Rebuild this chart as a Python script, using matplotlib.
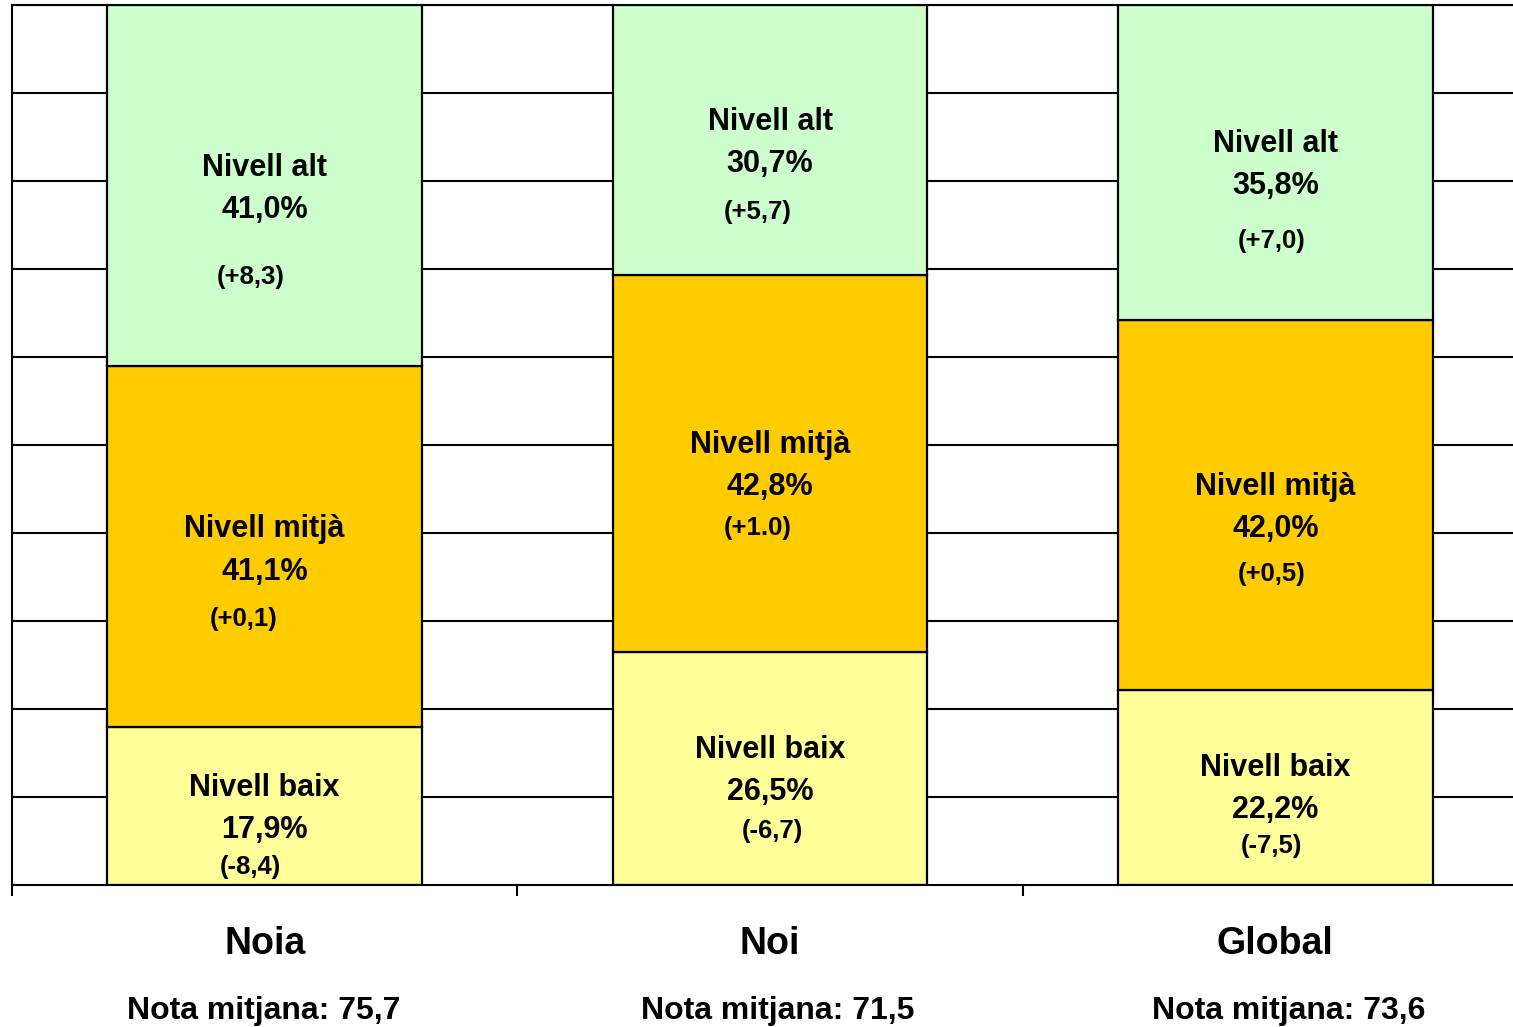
import numpy as np
import matplotlib.pyplot as plt

# Dades del gràfic
grups = ["Noia", "Noi", "Global"]
notes = ["Nota mitjana: 75,7", "Nota mitjana: 71,5", "Nota mitjana: 73,6"]
baix = [17.9, 26.5, 22.2]
mitja = [41.1, 42.8, 42.0]
alt = [41.0, 30.7, 35.8]
dif_baix = ["(-8,4)", "(-6,7)", "(-7,5)"]
dif_mitja = ["(+0,1)", "(+1.0)", "(+0,5)"]
dif_alt = ["(+8,3)", "(+5,7)", "(+7,0)"]

plt.rcParams['font.family'] = ['Liberation Sans', 'DejaVu Sans']

fig = plt.figure(figsize=(15.13, 10.27), dpi=100)
ax = fig.add_axes([12 / 1513, 142 / 1027, 1516 / 1513, 880 / 1027])

x = np.arange(len(grups))
w = 0.623
bot2 = np.array(baix) + np.array(mitja)
ax.bar(x, baix, w, color="#FFFF99", edgecolor="black", linewidth=1.6, zorder=2)
ax.bar(x, mitja, w, bottom=baix, color="#FFCC00", edgecolor="black", linewidth=1.6, zorder=2)
ax.bar(x, alt, w, bottom=bot2, color="#CCFFCC", edgecolor="black", linewidth=1.6, zorder=2)

ax.set_xlim(-0.5, 2.5)
ax.set_ylim(0, 100)
ax.set_yticks(np.arange(10, 101, 10))
ax.yaxis.grid(True, color="black", linewidth=1.5, zorder=1)
ax.set_axisbelow(True)
ax.tick_params(axis="y", length=0, labelleft=False)
ax.set_xticks([-0.5, 0.5, 1.5, 2.5])
ax.tick_params(axis="x", length=8, width=1.5, direction="out", labelbottom=False)
for s in ["left", "bottom", "top"]:
    ax.spines[s].set_linewidth(1.5)
ax.spines["right"].set_visible(False)

# posicions (y) de les etiquetes, a ull
y_alt = [(81.8, 77.0, 69.4), (87.0, 82.3, 76.8), (84.5, 79.8, 73.5)]
y_mit = [(40.8, 35.9, 30.6), (50.3, 45.6, 40.9), (45.6, 40.8, 35.7)]
y_bai = [(11.4, 6.6, 2.4), (15.7, 10.9, 6.5), (13.6, 8.9, 4.8)]
dx_alt = [-0.028, -0.024, -0.008]
dx_mit = [-0.042, -0.024, -0.008]
dx_bai = [-0.028, 0.004, -0.008]
dy = -0.35  # petit ajust vertical

for i in range(3):
    for nom, val, dif, ys, dx in [("Nivell alt", alt[i], dif_alt[i], y_alt[i], dx_alt[i]),
                                  ("Nivell mitjà", mitja[i], dif_mitja[i], y_mit[i], dx_mit[i]),
                                  ("Nivell baix", baix[i], dif_baix[i], y_bai[i], dx_bai[i])]:
        ax.text(x[i], ys[0] + dy, nom, ha="center", va="center", fontsize=22, fontweight="bold", zorder=3)
        ax.text(x[i], ys[1] + dy, f"{val:.1f}%".replace(".", ","), ha="center", va="center",
                fontsize=22, fontweight="bold", zorder=3)
        ax.text(x[i] + dx, ys[2] + dy, dif, ha="center", va="center", fontsize=18.5, fontweight="bold", zorder=3)

nota_dx = [-0.002, 0.016, 0.027]
for i in range(3):
    ax.text(x[i], -6.4 + dy, grups[i], ha="center", va="center", fontsize=27, fontweight="bold")
    ax.text(x[i] + nota_dx[i], -14.0 + dy, notes[i], ha="center", va="center", fontsize=23, fontweight="bold")

plt.savefig("out.png", dpi=100)
